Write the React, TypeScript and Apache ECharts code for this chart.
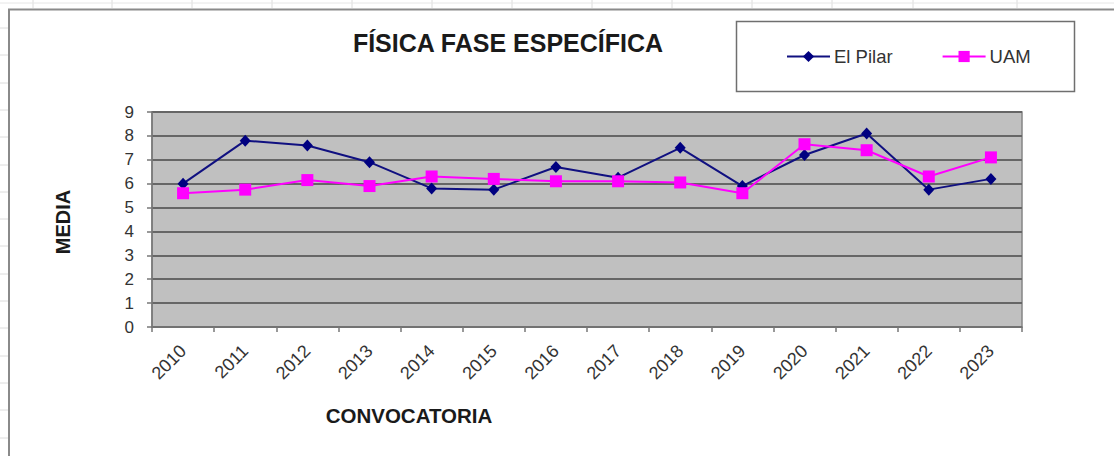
import React, { useEffect, useRef } from "react";
import * as echarts from "echarts";

const years = ["2010", "2011", "2012", "2013", "2014", "2015", "2016", "2017", "2018", "2019", "2020", "2021", "2022", "2023"];
const elPilar = [6.0, 7.8, 7.6, 6.9, 5.8, 5.75, 6.7, 6.25, 7.5, 5.9, 7.2, 8.1, 5.75, 6.2];
const uam = [5.6, 5.75, 6.15, 5.9, 6.3, 6.2, 6.1, 6.1, 6.05, 5.6, 7.65, 7.4, 6.3, 7.1];
const yTicks = { min: 0, max: 9, interval: 1 };

const FONT = "'Liberation Sans', Arial, sans-serif";

function sheetLines() {
  const els: any[] = [];
  const gridColor = "#dcdcdc";
  const cols = [33, 112, 192, 272, 352, 432, 512, 592, 672, 752, 832, 913, 1017];
  cols.forEach((x) =>
    els.push({ type: "line", shape: { x1: x, y1: 0, x2: x, y2: 8 }, style: { stroke: gridColor, lineWidth: 1 }, silent: true })
  );
  els.push({ type: "line", shape: { x1: 0, y1: 3, x2: 1114, y2: 3 }, style: { stroke: "#e6e6e6", lineWidth: 1 }, silent: true });
  for (let y = 28; y < 456; y += 27.3) {
    els.push({ type: "line", shape: { x1: 0, y1: Math.round(y), x2: 8, y2: Math.round(y) }, style: { stroke: gridColor, lineWidth: 1 }, silent: true });
  }
  return els;
}

export default function App() {
  const ref = useRef<HTMLDivElement>(null);
  useEffect(() => {
    if (!ref.current) return;
    const chart = echarts.init(ref.current, undefined, { renderer: "svg" });
    chart.setOption({
      animation: false,
      backgroundColor: "#ffffff",
      textStyle: { fontFamily: FONT },
      grid: {
        left: 152,
        right: 92,
        top: 112,
        bottom: 129,
        show: true,
        backgroundColor: "#c0c0c0",
        borderColor: "#858585",
        borderWidth: 1.5,
      },
      legend: {
        left: 786,
        top: 47,
        padding: 0,
        itemWidth: 43,
        itemHeight: 14,
        itemGap: 49,
        textStyle: { fontSize: 18.5, color: "#333", fontFamily: FONT, padding: [0, 0, 0, -1] },
        data: ["El Pilar", "UAM"],
      },
      xAxis: {
        type: "category",
        data: years,
        boundaryGap: true,
        axisLine: { show: true, lineStyle: { color: "#777", width: 1.5 } },
        axisTick: { show: true, length: 5, lineStyle: { color: "#777", width: 1.5 } },
        axisLabel: { rotate: 45, fontSize: 18, color: "#333", margin: 21, fontFamily: FONT },
        splitLine: { show: false },
      },
      yAxis: {
        type: "value",
        min: yTicks.min,
        max: yTicks.max,
        interval: yTicks.interval,
        axisLine: { show: true, lineStyle: { color: "#777", width: 1.5 } },
        axisTick: { show: true, length: 5, lineStyle: { color: "#777", width: 1.5 } },
        axisLabel: { fontSize: 17, color: "#333", margin: 18, fontFamily: FONT },
        splitLine: { show: true, lineStyle: { color: "#666", width: 2 } },
      },
      series: [
        {
          name: "El Pilar",
          type: "line",
          data: elPilar,
          symbol: "diamond",
          symbolSize: [11, 12],
          itemStyle: { color: "#000080" },
          lineStyle: { color: "#101080", width: 2 },
          z: 2,
        },
        {
          name: "UAM",
          type: "line",
          data: uam,
          symbol: "rect",
          symbolSize: 12,
          itemStyle: { color: "#ff00ff" },
          lineStyle: { color: "#ff00ff", width: 2 },
          z: 3,
        },
      ],
      graphic: [
        ...sheetLines(),
        {
          type: "rect",
          shape: { x: 9, y: 9.5, width: 1200, height: 600 },
          style: { fill: "none", stroke: "#8a8a8a", lineWidth: 2 },
          silent: true,
          z: -1,
        },
        {
          type: "rect",
          shape: { x: 736.5, y: 21.5, width: 338, height: 70 },
          style: { fill: "none", stroke: "#6f6f6f", lineWidth: 1.5 },
          silent: true,
        },
        {
          type: "text",
          x: 508,
          y: 43,
          style: {
            text: "FÍSICA FASE ESPECÍFICA",
            fontSize: 25,
            fontWeight: "bold",
            fontFamily: FONT,
            fill: "#1a1a1a",
            textAlign: "center",
            textVerticalAlign: "middle",
          },
          silent: true,
        },
        {
          type: "text",
          x: 63,
          y: 222,
          rotation: Math.PI / 2,
          style: {
            text: "MEDIA",
            fontSize: 20,
            fontWeight: "bold",
            fontFamily: FONT,
            fill: "#1a1a1a",
            textAlign: "center",
            textVerticalAlign: "middle",
          },
          silent: true,
        },
        {
          type: "text",
          x: 409,
          y: 415,
          style: {
            text: "CONVOCATORIA",
            fontSize: 20.5,
            fontWeight: "bold",
            fontFamily: FONT,
            fill: "#1a1a1a",
            textAlign: "center",
            textVerticalAlign: "middle",
          },
          silent: true,
        },
      ],
    });
    return () => chart.dispose();
  }, []);
  return <div ref={ref} style={{ position: "fixed", left: 0, top: 0, width: 1114, height: 456 }} />;
}
